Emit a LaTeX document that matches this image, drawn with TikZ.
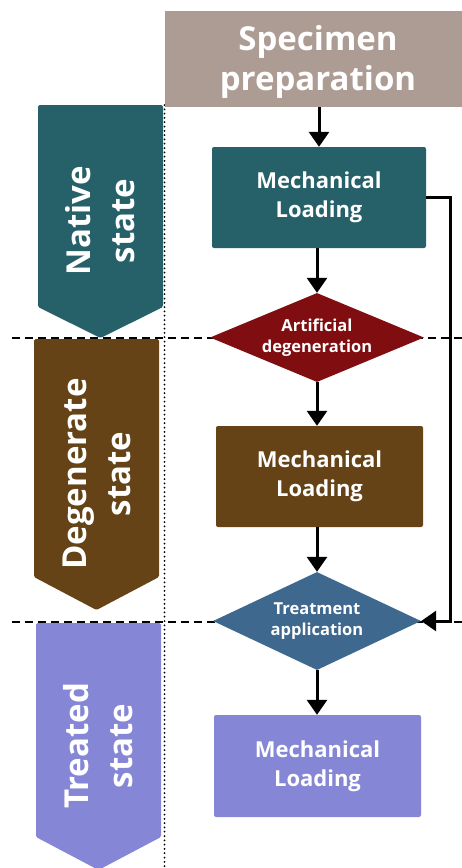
\documentclass[tikz,border=0pt]{standalone}
\usepackage{fontspec}
\setmainfont{Open Sans}
\usetikzlibrary{shapes.geometric,arrows.meta,calc}

\definecolor{specclr}{HTML}{AD9C94}
\definecolor{nativeclr}{HTML}{266068}
\definecolor{degenclr}{HTML}{654316}
\definecolor{treatclr}{HTML}{8587D6}
\definecolor{artclr}{HTML}{800D10}
\definecolor{trtclr}{HTML}{3E688E}

\tikzset{
  box/.style={rectangle, rounded corners=2pt, inner sep=0pt, text=white,
    font=\bfseries\fontsize{22}{29}\selectfont, align=center},
  decision/.style={diamond, inner sep=0pt},
  dectext/.style={text=white, font=\bfseries\fontsize{16.5}{21}\selectfont, align=center},
  statetext/.style={text=white, rotate=90, font=\bfseries\fontsize{33}{44}\selectfont, align=center},
  flow/.style={line width=3pt, -{Triangle[width=20pt,length=15pt]}},
  stateline/.style={line width=1.5pt, dash pattern=on 8pt off 5pt},
  colsep/.style={line width=2pt, line cap=round, dash pattern=on 0pt off 4.3pt},
}

\begin{document}
\begin{tikzpicture}[x=1pt, y=-1pt]
\useasboundingbox (0,0) rectangle (462,868);

% state boundaries
\draw[stateline] (12,338) -- (462,338);
\draw[stateline] (12,622) -- (462,622);

% column separator
\draw[colsep] (164.5,105) -- (164.5,870);

% state chevrons
\fill[nativeclr, rounded corners=1.5pt] (38,105) -- (163,105) -- (163,307) -- (100.5,338) -- (38,307) -- cycle;
\fill[degenclr, rounded corners=1.5pt] (34,339) -- (159,339) -- (159,577) -- (96.5,610) -- (34,577) -- cycle;
\fill[treatclr, rounded corners=1.5pt] (36,623) -- (161,623) -- (161,837) -- (98.5,870) -- (36,837) -- cycle;
\node[statetext] (native) at (100.5,221) {Native\\state};
\node[statetext] (degen) at (96.5,474) {Degenerate\\state};
\node[statetext] (treated) at (98.5,746) {Treated\\state};

% process steps
\node[box, fill=specclr, rounded corners=0pt, minimum width=301pt, minimum height=96pt] (spec) at (315.5,59) {};
\node[text=white, font=\bfseries\fontsize{33}{40}\selectfont, align=center] (spectext) at (318,62) {Specimen\\preparation};
\node[box, fill=nativeclr, minimum width=214pt, minimum height=101pt] (ml1) at (319,197.5) {Mechanical\\Loading};
\node[decision, fill=artclr, minimum width=214pt, minimum height=89pt] (d1) at (317,337.5) {};
\node[dectext] at (d1.center) {Artificial\\degeneration};
\node[box, fill=degenclr, minimum width=207pt, minimum height=101pt] (ml2) at (319.5,476.5) {Mechanical\\Loading};
\node[decision, fill=trtclr, minimum width=208pt, minimum height=98pt] (d2) at (317,621) {};
\node[dectext] at (d2.center) {Treatment\\application};
\node[box, fill=treatclr, minimum width=207pt, minimum height=102pt] (ml3) at (317.5,766) {Mechanical\\Loading};

% connectors
\draw[flow] (ml1.north |- spec.south) -- (ml1.north);
\draw[flow] (d1.north |- ml1.south) -- (d1.north);
\draw[flow] (d1.south) -- (d1.south |- ml2.north);
\draw[flow] (d2.north |- ml2.south) -- (d2.north);
\draw[flow] (d2.south) -- (d2.south |- ml3.north);
\draw[flow, rounded corners=0pt] (ml1.east) -- ++(24,0) |- (d2.east);
\end{tikzpicture}
\end{document}
